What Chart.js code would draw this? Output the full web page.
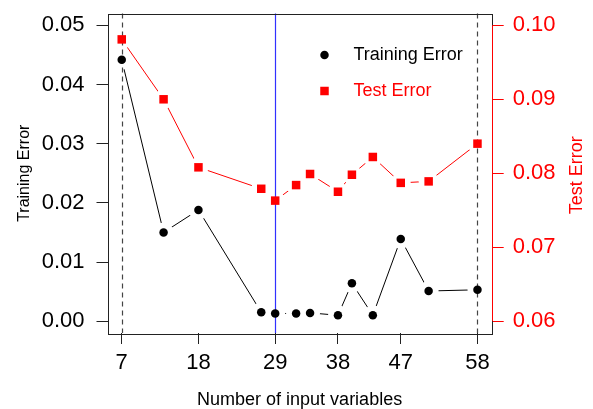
<!DOCTYPE html>
<html>
<head>
<meta charset="utf-8">
<script src="https://cdn.jsdelivr.net/npm/chart.js@4"></script>
<style>
  html, body { margin: 0; padding: 0; background: #fff; }
</style>
</head>
<body>
<canvas id="grafico" width="593" height="409"></canvas>
<script>
// --- datos ---
const numVars   = [7, 13, 18, 27, 29, 32, 34, 38, 40, 43, 47, 51, 58];
const trainErr  = [0.0442, 0.0150, 0.0188, 0.0015, 0.0013, 0.0013, 0.0014, 0.0010, 0.0064, 0.0010, 0.0139, 0.0051, 0.0053];
const testErr   = [0.0981, 0.0900, 0.0808, 0.0779, 0.0763, 0.0784, 0.0799, 0.0775, 0.0798, 0.0822, 0.0787, 0.0789, 0.0840];

const xTicks     = [7, 18, 29, 38, 47, 58];
const trainTicks = [0.00, 0.01, 0.02, 0.03, 0.04, 0.05];
const testTicks  = [0.06, 0.07, 0.08, 0.09, 0.10];

const xLim     = [7, 58];
const trainLim = [0, 0.05];
const testLim  = [0.06, 0.10];

const dashedAt = [7, 58];   // lineas verticales discontinuas
const blueAt   = [29];      // linea azul (optimo)

// R extiende los limites un 4%
function pad(lim) {
    const d = (lim[1] - lim[0]) * 0.04;
    return [lim[0] - d, lim[1] + d];
}
const xr = pad(xLim), yr = pad(trainLim), y2r = pad(testLim);

const FONT = 'Liberation Sans, Arial, Helvetica, sans-serif';
const RED = '#ff0000';

// sin relleno extra de las etiquetas, el area queda fija
function fixPad(s) {
    s.paddingTop = 0; s.paddingBottom = 0; s.paddingLeft = 0; s.paddingRight = 0;
}

// --- lineas de referencia, caja, marcadores, leyenda ---
const decor = {
    id: 'decor',
    afterDatasetsDraw(chart) {
        const { ctx, chartArea: a, scales: { x, y2 } } = chart;
        ctx.save();

        // verticales
        ctx.lineWidth = 1.2;
        ctx.strokeStyle = '#444';
        ctx.setLineDash([5, 4]);
        dashedAt.forEach(v => {
            const px = Math.round(x.getPixelForValue(v)) + 0.5;
            ctx.beginPath(); ctx.moveTo(px, a.top); ctx.lineTo(px, a.bottom); ctx.stroke();
        });
        ctx.setLineDash([]);
        ctx.lineWidth = 1.2;
        ctx.strokeStyle = '#3030ff';
        blueAt.forEach(v => {
            const px = Math.round(x.getPixelForValue(v)) + 0.5;
            ctx.beginPath(); ctx.moveTo(px, a.top); ctx.lineTo(px, a.bottom); ctx.stroke();
        });

        // marcadores encima (los puntos del dataset solo abren el hueco tipo "b")
        chart.data.datasets.forEach((ds, i) => {
            ctx.fillStyle = ds.markerColor;
            chart.getDatasetMeta(i).data.forEach(p => {
                ctx.beginPath();
                if (ds.markerStyle === 'rect') {
                    const s = ds.markerSize;
                    ctx.rect(p.x - s / 2, p.y - s / 2, s, s);
                } else {
                    ctx.arc(p.x, p.y, ds.markerSize / 2, 0, Math.PI * 2);
                }
                ctx.fill();
            });
        });

        // caja
        ctx.strokeStyle = '#222';
        ctx.lineWidth = 1;
        ctx.strokeRect(Math.round(a.left) + 0.5, Math.round(a.top) + 0.5,
                       Math.round(a.width), Math.round(a.height));

        // eje derecho en rojo
        ctx.strokeStyle = RED;
        const rx = Math.round(a.right) + 0.5;
        ctx.beginPath();
        ctx.moveTo(rx, y2.getPixelForValue(testTicks[0]));
        ctx.lineTo(rx, y2.getPixelForValue(testTicks[testTicks.length - 1]));
        ctx.stroke();

        // titulo eje derecho (de abajo hacia arriba, como en R)
        ctx.save();
        ctx.translate(577.5, (a.top + a.bottom) / 2 + 2);
        ctx.rotate(-Math.PI / 2);
        ctx.font = '18px ' + FONT;
        ctx.fillStyle = RED;
        ctx.textAlign = 'center';
        ctx.textBaseline = 'middle';
        ctx.fillText('Test Error', 0, 0);
        ctx.restore();

        // leyenda
        const lx = a.left + 217, tx = a.left + 246;
        const rows = [a.top + 41.5, a.top + 77.5];
        chart.data.datasets.forEach((ds, i) => {
            const ly = rows[i];
            ctx.fillStyle = ds.markerColor;
            ctx.beginPath();
            if (ds.markerStyle === 'rect') {
                ctx.rect(lx - ds.markerSize / 2, ly - ds.markerSize / 2, ds.markerSize, ds.markerSize);
            } else {
                ctx.arc(lx, ly, ds.markerSize / 2, 0, Math.PI * 2);
            }
            ctx.fill();
            ctx.font = '18px ' + FONT;
            ctx.textAlign = 'left';
            ctx.textBaseline = 'middle';
            ctx.fillText(ds.label, tx, ly);
        });

        ctx.restore();
    }
};

new Chart(document.getElementById('grafico').getContext('2d'), {
    type: 'line',
    data: {
        datasets: [{
            label: 'Training Error',
            data: numVars.map((v, i) => ({ x: v, y: trainErr[i] })),
            yAxisID: 'y',
            borderColor: '#000',
            borderWidth: 1,
            pointRadius: 10,
            pointHoverRadius: 10,
            pointBackgroundColor: '#fff',
            pointBorderWidth: 0,
            markerColor: '#000',
            markerStyle: 'circle',
            markerSize: 8.5
        }, {
            label: 'Test Error',
            data: numVars.map((v, i) => ({ x: v, y: testErr[i] })),
            yAxisID: 'y2',
            borderColor: RED,
            borderWidth: 1,
            pointRadius: 10,
            pointHoverRadius: 10,
            pointBackgroundColor: '#fff',
            pointBorderWidth: 0,
            markerColor: RED,
            markerStyle: 'rect',
            markerSize: 8.5
        }]
    },
    options: {
        responsive: false,
        devicePixelRatio: 1,
        animation: false,
        events: [],
        layout: { padding: { top: 13.5, left: 0, right: 0, bottom: 0 } },
        plugins: { legend: { display: false }, tooltip: { enabled: false } },
        scales: {
            x: {
                type: 'linear',
                min: xr[0], max: xr[1],
                afterBuildTicks: s => { s.ticks = xTicks.map(v => ({ value: v })); },
                afterFit: s => { s.height = 76; fixPad(s); },
                border: { display: false },
                grid: { drawOnChartArea: false, drawTicks: true, tickLength: 11, color: '#222' },
                ticks: { color: '#000', padding: 6, maxRotation: 0, font: { family: FONT, size: 22 },
                         callback: v => String(v) },
                title: { display: true, text: 'Number of input variables', color: '#000',
                         font: { family: FONT, size: 18, lineHeight: 1 }, padding: { top: 0, bottom: 0 } }
            },
            y: {
                position: 'left',
                min: yr[0], max: yr[1],
                afterBuildTicks: s => { s.ticks = trainTicks.map(v => ({ value: v })); },
                afterFit: s => { s.width = 107.5; fixPad(s); },
                border: { display: false },
                grid: { drawOnChartArea: false, drawTicks: true, tickLength: 11, color: '#222' },
                ticks: { color: '#000', padding: 12, font: { family: FONT, size: 22 },
                         callback: v => v.toFixed(2) },
                title: { display: true, text: 'Training Error', color: '#000',
                         font: { family: FONT, size: 16 }, padding: { top: 15, bottom: 0 } }
            },
            y2: {
                position: 'right',
                min: y2r[0], max: y2r[1],
                afterBuildTicks: s => { s.ticks = testTicks.map(v => ({ value: v })); },
                afterFit: s => { s.width = 101.3; fixPad(s); },
                border: { display: false },
                grid: { drawOnChartArea: false, drawTicks: true, tickLength: 12, color: RED },
                ticks: { color: RED, padding: 9, font: { family: FONT, size: 22 },
                         callback: v => v.toFixed(2) }
            }
        }
    },
    plugins: [decor]
});
</script>
</body>
</html>
